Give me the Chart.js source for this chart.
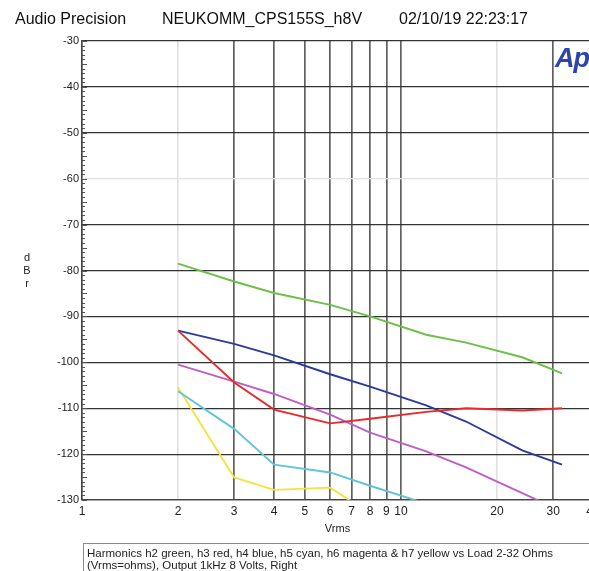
<!DOCTYPE html>
<html>
<head>
<meta charset="utf-8">
<script src="https://cdn.jsdelivr.net/npm/chart.js@4/dist/chart.umd.min.js"></script>
<style>
  html, body { margin: 0; padding: 0; background: #fff; overflow: hidden; }
  #wrap { position: relative; width: 589px; height: 571px; overflow: hidden; background: #fff; font-family: "Liberation Sans", Arial, sans-serif; color: #111; }
  #cbox { position: absolute; left: 0; top: 0; width: 640px; height: 571px; }
  .hdr { position: absolute; top: 11px; font-size: 16px; line-height: 16px; white-space: nowrap; color: #111; }
  #logo { position: absolute; left: 555px; top: 45px; font-size: 27px; line-height: 27px; font-weight: bold; font-style: italic; color: #2b45aa; letter-spacing: -1px; }
  #ylab { position: absolute; left: 22px; top: 251px; width: 10px; text-align: center; font-size: 11px; line-height: 13px; color: #222; }
  #caption { position: absolute; left: 83px; top: 543px; width: 560px; height: 40px; border: 1px solid #8a8a8a; box-sizing: border-box; padding: 3px 3px; font-size: 11.5px; line-height: 12px; color: #222; white-space: nowrap; }
</style>
</head>
<body>
<div id="wrap">
  <div id="cbox"><canvas id="c"></canvas></div>
  <div class="hdr" style="left:15px">Audio Precision</div>
  <div class="hdr" style="left:162px">NEUKOMM_CPS155S_h8V</div>
  <div class="hdr" style="left:399px">02/10/19 22:23:17</div>
  <div id="logo">Ap</div>
  <div id="ylab">d<br>B<br>r</div>
  <div id="caption">Harmonics h2 green, h3 red, h4 blue, h5 cyan, h6 magenta &amp; h7 yellow vs Load 2-32 Ohms<br>(Vrms=ohms), Output 1kHz 8 Volts, Right</div>
</div>
<script>
// ---- data ----
const loads = [2, 3, 4, 6, 8, 12, 16, 24, 32];
const h2Green   = [-78.5, -82.4, -84.9, -87.5, -90.0, -94.0, -95.7, -98.9, -102.4];
const h3Red     = [-93.1, -104.4, -110.3, -113.3, -112.3, -110.8, -110.0, -110.5, -110.0];
const h4Blue    = [-93.1, -96.0, -98.5, -102.6, -105.3, -109.4, -112.9, -119.2, -122.3];
const h5Cyan    = [-106.3, -114.5, -122.3, -124.0, -126.9, -130.8, null, null, null];
const h6Magenta = [-100.5, -104.2, -106.9, -111.4, -115.3, -119.4, -122.9, -128.5, -132.5];
const h7Yellow  = [-105.5, -125.1, -127.8, -127.3, -133.0, null, null, null, null];
const xTicks = [1, 2, 3, 4, 5, 6, 7, 8, 9, 10, 20, 30, 40];
const yTicks = [-130, -120, -110, -100, -90, -80, -70, -60, -50, -40, -30];
const xLight = [2, 20];
const yLight = [-60];

function pts(arr) {
  return loads.map((x, i) => ({ x: x, y: arr[i] }));
}
function ds(arr, color) {
  return { data: pts(arr), borderColor: color, borderWidth: 1.9, pointRadius: 0, tension: 0, fill: false, spanGaps: false };
}

const minorTicks = {
  id: 'minorTicks',
  afterDraw(chart) {
    const y = chart.scales.y, ca = chart.chartArea, ctx = chart.ctx;
    ctx.save();
    ctx.strokeStyle = '#555';
    ctx.lineWidth = 1;
    for (let v = yTicks[0]; v <= yTicks[yTicks.length - 1]; v++) {
      const py = Math.round(y.getPixelForValue(v)) + 0.5;
      const len = (v % 5 === 0) ? 5 : 3;
      ctx.beginPath();
      ctx.moveTo(ca.left, py);
      ctx.lineTo(ca.left + len, py);
      ctx.stroke();
    }
    ctx.restore();
  }
};

new Chart(document.getElementById('c'), {
  type: 'line',
  data: {
    datasets: [
      ds(h2Green, '#6cbf47'),
      ds(h3Red, '#e8292c'),
      ds(h4Blue, '#2c3a9e'),
      ds(h5Cyan, '#5ec6d6'),
      ds(h6Magenta, '#bf5fc4'),
      ds(h7Yellow, '#f3e33c')
    ]
  },
  options: {
    responsive: true,
    maintainAspectRatio: false,
    animation: false,
    layout: { padding: { top: 41, left: 0, right: 47, bottom: 31 } },
    plugins: { legend: { display: false }, tooltip: { enabled: false } },
    scales: {
      x: {
        type: 'logarithmic',
        min: 1, max: 40,
        afterBuildTicks: (s) => { s.ticks = xTicks.map(v => ({ value: v })); },
        afterFit: (s) => { s.height = 40; },
        ticks: {
          autoSkip: false, maxRotation: 0, padding: 4,
          color: '#222',
          font: { family: 'Liberation Sans', size: 12 },
          callback: (v) => xTicks.includes(v) ? String(v) : ''
        },
        grid: {
          drawTicks: false,
          lineWidth: 1.7,
          color: (c) => (c.tick && xLight.includes(c.tick.value)) ? '#e2e2e2' : '#606060'
        },
        border: { color: '#444', width: 1.2 },
        title: {
          display: true, text: 'Vrms', color: '#222',
          font: { family: 'Liberation Sans', size: 11 },
          padding: { top: 0, bottom: 4 }
        }
      },
      y: {
        min: -130, max: -30,
        afterBuildTicks: (s) => { s.ticks = yTicks.map(v => ({ value: v })); },
        afterFit: (s) => { s.width = 82; },
        ticks: {
          padding: 3, color: '#222',
          font: { family: 'Liberation Sans', size: 11 },
          callback: (v) => String(v)
        },
        grid: {
          drawTicks: false,
          lineWidth: 1.2,
          color: (c) => (c.tick && yLight.includes(c.tick.value)) ? '#e2e2e2' : '#333'
        },
        border: { color: '#444', width: 1.2 }
      }
    }
  },
  plugins: [minorTicks]
});
</script>
</body>
</html>
